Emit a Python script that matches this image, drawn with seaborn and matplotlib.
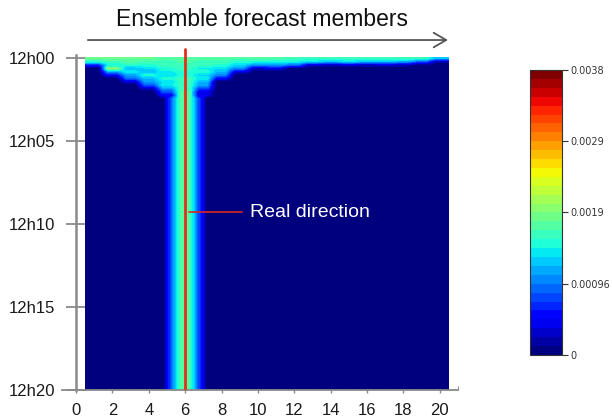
import numpy as np
import matplotlib
matplotlib.use("Agg")
import matplotlib.pyplot as plt
import seaborn as sns
from matplotlib.ticker import MultipleLocator

# ---------------- data ----------------
members = list(range(1, 21))                      # ensemble members 1..20
time_ticks = [0, 5, 10, 15, 20]                   # minutes after 12h00
time_labels = ["12h00", "12h05", "12h10", "12h15", "12h20"]
x_ticks = list(range(0, 21, 2))
real_member = 6                                   # "Real direction"
label_time = 9.3                                  # minute where the label sits
cbar_ticks = [0, 0.00095, 0.0019, 0.00285, 0.0038]
cbar_labels = ["0", "0.00096", "0.0019", "0.0029", "0.0038"]
vmax = 0.0038
row_step = 0.2                                    # minutes per grid row
total_minutes = 20

# probability (units of 1e-4) per 0.2-minute row, members 1..20, first 2.4 min
onset_e4 = [
    [18, 18, 18, 18, 17, 17, 17, 17, 17, 17, 17, 16, 16, 16, 16, 16, 16, 16, 16, 12],
    [15, 16, 17, 16, 16, 17, 16, 16, 15, 15, 14, 14, 13, 12, 13, 12, 12, 11,  8,  2],
    [ 6, 14, 15, 15, 16, 16, 16, 15, 13, 10, 11,  9,  3,  2,  3,  2,  3,  2,  0,  0],
    [ 0, 20, 12, 13, 15, 16, 14, 13, 10,  3,  4,  0,  0,  0,  0,  0,  0,  0,  0,  0],
    [ 0, 11, 14, 12, 14, 15, 15, 12,  4,  0,  0,  0,  0,  0,  0,  0,  0,  0,  0,  0],
    [ 0,  5, 11, 15, 13, 15, 13, 10,  0,  0,  0,  0,  0,  0,  0,  0,  0,  0,  0,  0],
    [ 0,  0,  9, 12, 15, 16, 14,  5,  0,  0,  0,  0,  0,  0,  0,  0,  0,  0,  0,  0],
    [ 0,  0,  3, 11, 13, 16, 12,  0,  0,  0,  0,  0,  0,  0,  0,  0,  0,  0,  0,  0],
    [ 0,  0,  0,  8, 14, 16, 11,  0,  0,  0,  0,  0,  0,  0,  0,  0,  0,  0,  0,  0],
    [ 0,  0,  0,  3, 11, 16,  8,  0,  0,  0,  0,  0,  0,  0,  0,  0,  0,  0,  0,  0],
    [ 0,  0,  0,  0,  8, 17,  4,  0,  0,  0,  0,  0,  0,  0,  0,  0,  0,  0,  0,  0],
    [ 0,  0,  0,  0,  5, 17,  4,  0,  0,  0,  0,  0,  0,  0,  0,  0,  0,  0,  0,  0],
]
# steady column after ~2.4 min, at half-member resolution (non-zero cells only)
column_members = [5.25, 5.75, 6.25, 6.75]
column_e4 = [9, 17, 17, 8]

# ---------------- build grid ----------------
half_centres = np.arange(members[0] - 0.25, members[-1] + 0.5, 0.5)  # 40 cells
steady = np.zeros(len(half_centres))
for m, v in zip(column_members, column_e4):
    steady[np.argmin(np.abs(half_centres - m))] = v
onset_half = np.repeat(np.array(onset_e4, dtype=float), 2, axis=1)
n_rows = int(round(total_minutes / row_step))
grid = np.vstack([onset_half, np.tile(steady, (n_rows - len(onset_e4), 1))]) * 1e-4

# ---------------- style ----------------
sns.set_style("white")
plt.rcParams["font.family"] = ["Liberation Sans", "DejaVu Sans"]

W, H = 612, 419
fig = plt.figure(figsize=(W / 100, H / 100), dpi=100)
ax = fig.add_axes([62 / W, 29 / H, 396 / W, 342 / H])
cax = fig.add_axes([530 / W, 64 / H, 32 / W, 285 / H])

cmap = plt.get_cmap("jet").resampled(32)
im = ax.imshow(grid, extent=(members[0] - 0.5, members[-1] + 0.5, total_minutes, 0),
               origin="upper", aspect="auto", cmap=cmap, vmin=0, vmax=vmax,
               interpolation="bilinear", interpolation_stage="data", zorder=1)

# real direction line
sns.lineplot(x=[real_member, real_member], y=[-0.55, total_minutes], orient="y",
             sort=False, estimator=None, color="#e2301c", lw=2, ax=ax, zorder=3)
ax.plot([real_member + 0.2, real_member + 3.1], [label_time, label_time],
        color="#d8281c", lw=1.2, zorder=3)
ax.text(real_member + 3.55, label_time, "Real direction", color="white",
        fontsize=14, va="center", ha="left", zorder=4)

ax.set_xlim(-0.77, 21.0)
ax.set_ylim(total_minutes, -0.6)

for s in ["top", "right"]:
    ax.spines[s].set_visible(False)
ax.spines["left"].set_position(("data", 0))
ax.spines["left"].set_bounds(total_minutes, -0.18)
ax.spines["left"].set_color("#8a8a8a")
ax.spines["left"].set_linewidth(1.8)
ax.spines["bottom"].set_color("#8a8a8a")
ax.spines["bottom"].set_linewidth(1.3)

ax.set_yticks(time_ticks)
ax.set_yticklabels(time_labels)
ax.set_xticks(x_ticks)
ax.xaxis.set_minor_locator(MultipleLocator(1))
ax.tick_params(axis="y", direction="inout", length=14, width=1.3, color="#8a8a8a",
               pad=8, labelsize=12, labelcolor="#1a1a1a", left=True)
ax.tick_params(axis="x", which="major", direction="inout", length=5, width=1.0,
               color="#8a8a8a", pad=7, labelsize=12, labelcolor="#1a1a1a", bottom=True)
ax.tick_params(axis="x", which="minor", direction="in", length=3, width=0.8,
               color="#8a8a8a", bottom=True)
ax.set_xlabel("")
ax.set_ylabel("")

# header arrow and title
ax.annotate("", xy=(members[-1] + 0.6, -1.08), xytext=(members[0] - 0.5, -1.08),
            arrowprops=dict(arrowstyle="->,head_length=0.6,head_width=0.35",
                            color="#555555", lw=1.3, mutation_scale=15),
            annotation_clip=False)
fig.text(262 / W, 1 - 26 / H, "Ensemble forecast members", ha="center",
         va="baseline", fontsize=16.5, color="#111111")

# colorbar
cb = fig.colorbar(im, cax=cax, ticks=cbar_ticks)
cb.ax.set_yticklabels(cbar_labels, family="DejaVu Sans", fontsize=7, color="#333333")
cb.ax.tick_params(length=4, width=0.8, color="#333333", pad=2)
cb.outline.set_edgecolor("#333333")
cb.outline.set_linewidth(0.8)

fig.savefig("out.png", dpi=100)
